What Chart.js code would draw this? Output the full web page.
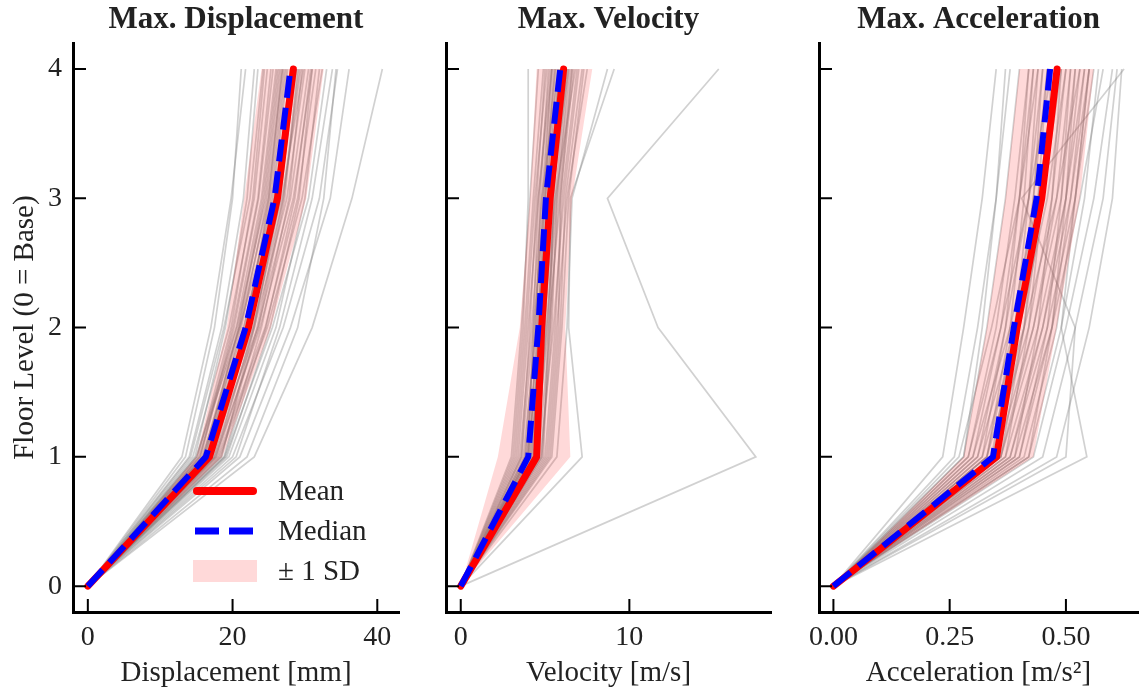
<!DOCTYPE html>
<html>
<head>
<meta charset="utf-8">
<script src="https://cdn.jsdelivr.net/npm/chart.js@4.4.1/dist/chart.umd.min.js"></script>
<style>
  html, body { margin: 0; padding: 0; background: #fff; }
  #wrap { position: relative; width: 1139px; height: 695px; overflow: hidden; }
  canvas { position: absolute; top: 0; }
</style>
</head>
<body>
<div id="wrap">
  <canvas id="c1" width="420" height="695" style="left:0px"></canvas>
  <canvas id="c2" width="370" height="695" style="left:420px"></canvas>
  <canvas id="c3" width="349" height="695" style="left:790px"></canvas>
</div>
<script>
const FLOORS = [0, 1, 2, 3, 4];

// one row per record: peak response at floors 1..4 (base = 0)
const dispRuns = [
  [16.5, 22.0, 26.0, 28.0], [15.0, 20.5, 24.0, 26.0], [18.0, 24.5, 29.0, 31.5], [14.0, 18.5, 21.5, 23.0],
  [17.5, 23.0, 27.5, 30.0], [16.0, 21.0, 25.0, 27.0], [19.0, 25.5, 30.5, 33.0], [13.5, 17.5, 20.0, 21.2],
  [17.0, 22.5, 26.5, 28.8], [15.5, 20.0, 23.5, 25.3], [20.0, 27.0, 32.0, 34.5], [16.8, 23.5, 28.0, 30.5],
  [14.5, 19.5, 23.0, 24.8], [18.5, 23.0, 26.5, 28.5], [23.0, 31.0, 36.5, 40.7], [15.8, 21.5, 26.0, 28.8],
  [17.2, 22.0, 25.0, 26.8], [16.2, 20.8, 24.2, 26.2], [19.5, 26.0, 30.0, 32.0], [14.8, 19.0, 22.0, 23.5],
  [18.8, 24.0, 27.8, 29.6], [16.6, 22.8, 27.0, 29.4], [15.2, 19.8, 22.8, 24.4], [21.0, 28.0, 33.5, 36.1],
  [17.8, 23.6, 27.2, 29.0], [13.0, 17.0, 19.8, 21.8], [16.4, 21.6, 25.4, 27.4], [18.2, 24.8, 29.6, 32.4],
  [15.6, 20.2, 23.6, 25.6], [17.4, 22.2, 25.6, 27.6], [20.5, 26.5, 31.0, 33.8], [16.0, 22.0, 26.8, 29.8],
  [14.2, 18.8, 22.4, 24.2], [19.2, 25.2, 29.2, 31.0], [17.6, 23.8, 28.4, 31.0], [15.4, 20.6, 24.6, 26.6],
  [22.0, 29.0, 32.6, 34.3], [16.9, 21.8, 25.2, 27.2], [18.4, 23.4, 27.0, 29.2], [15.0, 21.0, 25.8, 28.2],
  [16.3, 21.2, 24.8, 26.9], [17.7, 22.9, 26.6, 28.6], [15.9, 20.9, 24.4, 26.4], [18.9, 24.6, 28.6, 30.8]
];
const dispMean   = [0, 16.8, 22.2, 26.2, 28.4];
const dispMedian = [0, 16.3, 21.8, 25.8, 28.0];
const dispLow    = [0, 15.0, 19.2, 21.6, 24.0];
const dispHigh   = [0, 18.6, 25.3, 30.2, 32.6];

const velRuns = [
  [4.2, 4.8, 5.2, 5.9], [3.8, 4.4, 4.9, 5.6], [4.6, 5.3, 5.8, 6.6], [3.2, 3.8, 4.3, 4.9],
  [5.0, 5.6, 6.0, 6.9], [4.0, 4.6, 5.0, 5.5], [4.4, 5.0, 5.4, 6.2], [3.5, 4.2, 4.8, 5.8],
  [5.3, 5.9, 6.2, 7.2], [4.1, 4.5, 4.7, 5.2], [3.0, 3.6, 4.1, 4.6], [4.8, 5.4, 5.7, 6.4],
  [3.9, 4.9, 5.6, 6.8], [4.5, 4.9, 5.1, 5.7], [17.5, 11.7, 8.7, 15.3], [7.2, 6.4, 6.5, 9.1],
  [5.7, 6.3, 6.6, 8.7], [3.6, 4.1, 4.5, 5.0], [4.3, 5.1, 5.7, 6.5], [4.9, 5.2, 5.5, 6.0],
  [3.4, 4.0, 4.6, 5.4], [4.7, 5.5, 6.1, 7.0], [4.0, 4.3, 4.6, 5.3], [5.1, 5.7, 6.3, 7.5],
  [3.7, 4.5, 5.2, 6.1], [4.2, 4.7, 5.0, 5.6], [3.1, 3.7, 4.0, 4.0], [4.4, 5.2, 5.9, 6.7],
  [4.6, 5.0, 5.3, 5.8], [3.9, 4.4, 4.8, 5.4], [5.4, 6.0, 6.4, 7.3], [4.1, 4.9, 5.4, 6.3],
  [3.3, 3.9, 4.4, 5.1], [4.8, 5.3, 5.5, 6.1], [4.3, 4.6, 4.9, 5.4], [3.8, 4.7, 5.4, 6.4],
  [5.2, 5.8, 5.9, 6.6], [4.5, 5.1, 5.6, 6.3], [3.6, 4.3, 5.0, 5.9], [4.0, 4.8, 5.3, 6.0]
];
const velMean   = [0, 4.5, 4.8, 5.3, 6.1];
const velMedian = [0, 4.0, 4.6, 5.05, 5.9];
const velLow    = [0, 2.2, 3.5, 4.1, 4.5];
const velHigh   = [0, 6.5, 6.2, 6.6, 7.8];

const accRuns = [
  [0.35, 0.41, 0.45, 0.48], [0.30, 0.36, 0.40, 0.43], [0.40, 0.47, 0.51, 0.54], [0.28, 0.33, 0.37, 0.40],
  [0.38, 0.45, 0.50, 0.53], [0.33, 0.39, 0.43, 0.46], [0.42, 0.49, 0.54, 0.57], [0.235, 0.28, 0.32, 0.35],
  [0.36, 0.43, 0.48, 0.51], [0.31, 0.37, 0.42, 0.45], [0.45, 0.52, 0.58, 0.61], [0.34, 0.42, 0.47, 0.50],
  [0.29, 0.35, 0.39, 0.42], [0.37, 0.42, 0.45, 0.47], [0.50, 0.52, 0.405, 0.625], [0.32, 0.40, 0.46, 0.50],
  [0.39, 0.44, 0.47, 0.49], [0.27, 0.34, 0.40, 0.44], [0.41, 0.48, 0.52, 0.55], [0.33, 0.38, 0.41, 0.43],
  [0.36, 0.44, 0.50, 0.54], [0.30, 0.38, 0.44, 0.48], [0.43, 0.50, 0.56, 0.60], [0.35, 0.40, 0.43, 0.45],
  [0.26, 0.31, 0.35, 0.38], [0.38, 0.46, 0.52, 0.56], [0.34, 0.39, 0.42, 0.44], [0.32, 0.37, 0.40, 0.42],
  [0.40, 0.46, 0.49, 0.51], [0.37, 0.45, 0.51, 0.55], [0.48, 0.55, 0.60, 0.62], [0.31, 0.39, 0.45, 0.49],
  [0.36, 0.41, 0.44, 0.46], [0.29, 0.36, 0.42, 0.47], [0.42, 0.47, 0.50, 0.52], [0.33, 0.41, 0.48, 0.53],
  [0.39, 0.47, 0.53, 0.58], [0.28, 0.32, 0.35, 0.37], [0.35, 0.43, 0.49, 0.52], [0.545, 0.49, 0.52, 0.55]
];
const accMean   = [0, 0.351, 0.395, 0.448, 0.481];
const accMedian = [0, 0.343, 0.388, 0.437, 0.466];
const accLow    = [0, 0.28, 0.33, 0.37, 0.40];
const accHigh   = [0, 0.43, 0.48, 0.53, 0.56];

const SERIF = "'Liberation Serif', 'Times New Roman', serif";
const TEXT = '#222';
const PINK = 'rgba(255,0,0,0.15)';

function pts(vals) {
  return FLOORS.map((f, i) => ({ x: vals[i], y: f }));
}

function buildSets(runs, mean, median, low, high) {
  const sets = [
    { label: 'Median', data: pts(median), borderColor: '#0000ff', borderWidth: 6,
      borderDash: [22, 10], borderCapStyle: 'butt', order: 0 },
    { label: 'Mean', data: pts(mean), borderColor: '#ff0000', borderWidth: 7,
      borderCapStyle: 'round', borderJoinStyle: 'round', order: 1 },
    { label: 'hi', data: pts(high), borderColor: 'rgba(0,0,0,0)', borderWidth: 0,
      fill: '+1', backgroundColor: PINK, order: 2 },
    { label: 'lo', data: pts(low), borderColor: 'rgba(0,0,0,0)', borderWidth: 0, fill: false, order: 2 }
  ];
  runs.forEach(r => sets.push({
    data: pts([0].concat(r)), borderColor: 'rgba(128,128,128,0.36)', borderWidth: 1.7, order: 3
  }));
  return sets;
}

// matplotlib style ticks pointing into the axes
const inwardTicks = {
  id: 'inwardTicks',
  afterDraw(chart) {
    const { ctx, chartArea: a, scales: { x, y } } = chart;
    ctx.save();
    ctx.strokeStyle = '#000';
    ctx.lineWidth = 2;
    ctx.beginPath();
    x.ticks.forEach(t => {
      const px = x.getPixelForValue(t.value);
      ctx.moveTo(px, a.bottom);
      ctx.lineTo(px, a.bottom - 13);
    });
    y.ticks.forEach(t => {
      const py = y.getPixelForValue(t.value);
      ctx.moveTo(a.left, py);
      ctx.lineTo(a.left + 13, py);
    });
    ctx.stroke();
    ctx.restore();
  }
};

const floatLegend = {
  id: 'floatLegend',
  afterDraw(chart) {
    const { ctx, chartArea: a } = chart;
    const x0 = a.right - 206, x1 = a.right - 142, tx = a.right - 121;
    const rows = [a.bottom - 121, a.bottom - 81, a.bottom - 41];
    ctx.save();
    ctx.strokeStyle = '#ff0000';
    ctx.lineWidth = 8;
    ctx.lineCap = 'round';
    ctx.beginPath(); ctx.moveTo(x0 + 4, rows[0]); ctx.lineTo(x1 - 4, rows[0]); ctx.stroke();
    ctx.strokeStyle = '#0000ff';
    ctx.lineWidth = 7;
    ctx.lineCap = 'butt';
    ctx.setLineDash([24, 10]);
    ctx.beginPath(); ctx.moveTo(x0 + 2, rows[1]); ctx.lineTo(x1, rows[1]); ctx.stroke();
    ctx.setLineDash([]);
    ctx.fillStyle = PINK;
    ctx.fillRect(x0, rows[2] - 11, x1 - x0, 22);
    ctx.fillStyle = TEXT;
    ctx.font = '29px ' + SERIF;
    ctx.textBaseline = 'middle';
    ctx.textAlign = 'left';
    ['Mean', 'Median', '\u00b1 1 SD'].forEach((t, i) => ctx.fillText(t, tx, rows[i] + 1));
    ctx.restore();
  }
};

function makePanel(id, cfg) {
  const tickFont = { family: SERIF, size: 28 };
  const labelFont = { family: SERIF, size: 29 };
  return new Chart(document.getElementById(id), {
    type: 'line',
    data: { datasets: buildSets(cfg.runs, cfg.mean, cfg.median, cfg.low, cfg.high) },
    options: {
      indexAxis: 'y',
      responsive: false,
      animation: false,
      events: [],
      layout: { padding: { left: 0, right: cfg.padRight, top: 0, bottom: 0 } },
      elements: { point: { radius: 0 }, line: { tension: 0 } },
      plugins: {
        legend: { display: false },
        tooltip: { enabled: false },
        title: {
          display: true, text: cfg.title, fullSize: false, color: TEXT,
          font: { family: SERIF, size: 31, weight: 'bold' },
          padding: { top: 1, bottom: 5 }
        }
      },
      scales: {
        x: {
          type: 'linear', min: cfg.xMin, max: cfg.xMax,
          grid: { display: false, drawTicks: false },
          border: { display: true, color: '#000', width: 3 },
          ticks: {
            stepSize: cfg.xStep, includeBounds: false, padding: 9, color: TEXT, font: tickFont,
            maxRotation: 0, autoSkip: false, callback: cfg.fmt
          },
          title: { display: true, text: cfg.xTitle, color: TEXT, font: labelFont, padding: { top: 0, bottom: 4 } },
          afterFit: s => { s.height = 83; }
        },
        y: {
          type: 'linear', min: -0.2, max: 4.2,
          grid: { display: false, drawTicks: false },
          border: { display: true, color: '#000', width: 3 },
          ticks: {
            display: cfg.showY, stepSize: 1, includeBounds: false, padding: 11, color: TEXT, font: tickFont
          },
          title: {
            display: cfg.showY, text: 'Floor Level (0 = Base)', color: TEXT, font: labelFont,
            padding: { top: 8, bottom: 0 }
          },
          afterFit: s => { s.width = cfg.yWidth; }
        }
      }
    },
    plugins: cfg.legend ? [inwardTicks, floatLegend] : [inwardTicks]
  });
}

makePanel('c1', {
  title: 'Max. Displacement', xTitle: 'Displacement [mm]',
  runs: dispRuns, mean: dispMean, median: dispMedian, low: dispLow, high: dispHigh,
  xMin: -2.05, xMax: 43, xStep: 20, fmt: v => String(v),
  showY: true, yWidth: 73, padRight: 21, legend: true
});
makePanel('c2', {
  title: 'Max. Velocity', xTitle: 'Velocity [m/s]',
  runs: velRuns, mean: velMean, median: velMedian, low: velLow, high: velHigh,
  xMin: -0.875, xMax: 18.4, xStep: 10, fmt: v => String(v),
  showY: false, yWidth: 26, padRight: 19, legend: false
});
makePanel('c3', {
  title: 'Max. Acceleration', xTitle: 'Acceleration [m/s\u00b2]',
  runs: accRuns, mean: accMean, median: accMedian, low: accLow, high: accHigh,
  xMin: -0.031, xMax: 0.655, xStep: 0.25, fmt: v => v.toFixed(2),
  showY: false, yWidth: 29, padRight: 1, legend: false
});
</script>
</body>
</html>
